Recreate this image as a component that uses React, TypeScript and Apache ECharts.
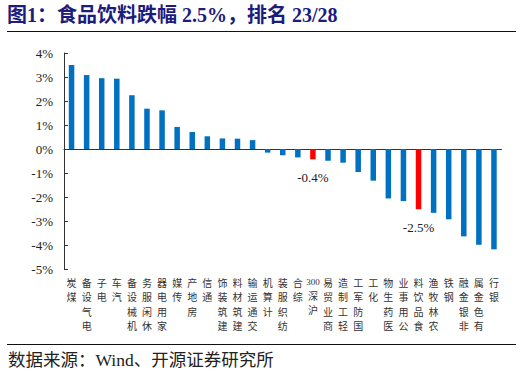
import React, { useEffect, useRef } from "react";
import * as echarts from "echarts";

const titleText = "图1：食品饮料跌幅 2.5%，排名 23/28";
const sourceText = "数据来源：Wind、开源证券研究所";

const categories = [
  "煤炭", "电气设备", "电子", "汽车", "机械设备", "休闲服务", "家用电器", "传媒",
  "房地产", "通信", "建筑装饰", "建筑材料", "交通运输", "计算机", "纺织服装", "综合",
  "沪深300", "商业贸易", "轻工制造", "国防军工", "化工", "医药生物", "公用事业",
  "食品饮料", "农林牧渔", "钢铁", "非银金融", "有色金属", "银行",
];
const values = [
  3.5, 3.08, 2.95, 2.93, 2.24, 1.68, 1.61, 0.92, 0.71, 0.53, 0.44, 0.43, 0.37,
  -0.15, -0.26, -0.35, -0.43, -0.49, -0.57, -0.96, -1.32, -2.06, -2.17, -2.51,
  -2.66, -2.93, -3.64, -3.99, -4.18,
];
const highlighted = ["沪深300", "食品饮料"];
const yTicks = { min: -5, max: 4, interval: 1 };

const BLUE = "#0070C0";
const RED = "#FF0000";
const SERIF = "'Liberation Serif', 'Times New Roman', 'Noto Sans CJK SC', serif";
const CJK = "'Noto Sans CJK SC', 'Liberation Serif', serif";

function stackLabel(s: string): string {
  const tokens = s.match(/[0-9]+|./gu) || [];
  return tokens
    .slice()
    .reverse()
    .map((t) => (/^[0-9]+$/.test(t) ? `{d|${t}}` : `{c|${t}}`))
    .join("\n");
}

export default function App() {
  const ref = useRef<HTMLDivElement>(null);
  useEffect(() => {
    document.body.style.margin = "0";
    if (!ref.current) return;
    const chart = echarts.init(ref.current, undefined, { renderer: "svg" });
    chart.setOption({
      animation: false,
      backgroundColor: "#ffffff",
      title: {
        text: titleText,
        left: 7,
        top: 5,
        padding: 0,
        textStyle: {
          fontSize: 20,
          fontWeight: "bold",
          color: "#1c1c7c",
          fontFamily: SERIF,
        },
      },
      graphic: [
        {
          type: "line",
          shape: { x1: 7, y1: 31.5, x2: 516, y2: 31.5 },
          style: { stroke: "#111", lineWidth: 1 },
        },
        {
          type: "line",
          shape: { x1: 7, y1: 344.5, x2: 516, y2: 344.5 },
          style: { stroke: "#111", lineWidth: 1 },
        },
        {
          type: "text",
          x: 8,
          y: 360,
          style: {
            text: sourceText,
            fontSize: 17.5,
            fontFamily: SERIF,
            fill: "#222",
            verticalAlign: "middle",
          },
        },
      ],
      grid: { left: 64, top: 53, width: 437.5, height: 216, containLabel: false },
      xAxis: [
        {
          type: "category",
          data: categories,
          position: "bottom",
          axisLine: { onZero: true, lineStyle: { color: "#333", width: 1 } },
          axisTick: { inside: true, length: 4, lineStyle: { color: "#333" } },
          axisLabel: { show: false },
          splitLine: { show: false },
        },
        {
          type: "category",
          data: categories,
          position: "bottom",
          axisLine: { show: false, onZero: false },
          axisTick: { show: false },
          splitLine: { show: false },
          axisLabel: {
            show: true,
            interval: 0,
            margin: 6,
            color: "#333",
            formatter: (v: string) => stackLabel(v),
            rich: {
              c: { fontSize: 10, lineHeight: 14.5, fontFamily: CJK, color: "#333" },
              d: { fontSize: 9, lineHeight: 13, fontFamily: SERIF, color: "#333" },
            },
          },
        },
      ],
      yAxis: {
        type: "value",
        min: yTicks.min,
        max: yTicks.max,
        interval: yTicks.interval,
        axisLine: { show: true, lineStyle: { color: "#333", width: 1 } },
        axisTick: { show: true, inside: true, length: 4, lineStyle: { color: "#333" } },
        splitLine: { show: false },
        axisLabel: {
          formatter: "{value}%",
          fontSize: 13,
          fontFamily: SERIF,
          color: "#222",
          margin: 11,
        },
      },
      series: [
        {
          type: "bar",
          xAxisIndex: 0,
          barWidth: 5.5,
          data: categories.map((c, i) => {
            const hl = highlighted.includes(c);
            return {
              value: values[i],
              itemStyle: { color: hl ? RED : BLUE },
              label: hl
                ? {
                    show: true,
                    position: "bottom",
                    distance: 12,
                    formatter: () => `${values[i].toFixed(1)}%`,
                    fontSize: 13,
                    fontFamily: SERIF,
                    color: "#222",
                  }
                : { show: false },
            };
          }),
        },
      ],
    });
    return () => chart.dispose();
  }, []);
  return <div ref={ref} style={{ width: 522, height: 374 }} />;
}
